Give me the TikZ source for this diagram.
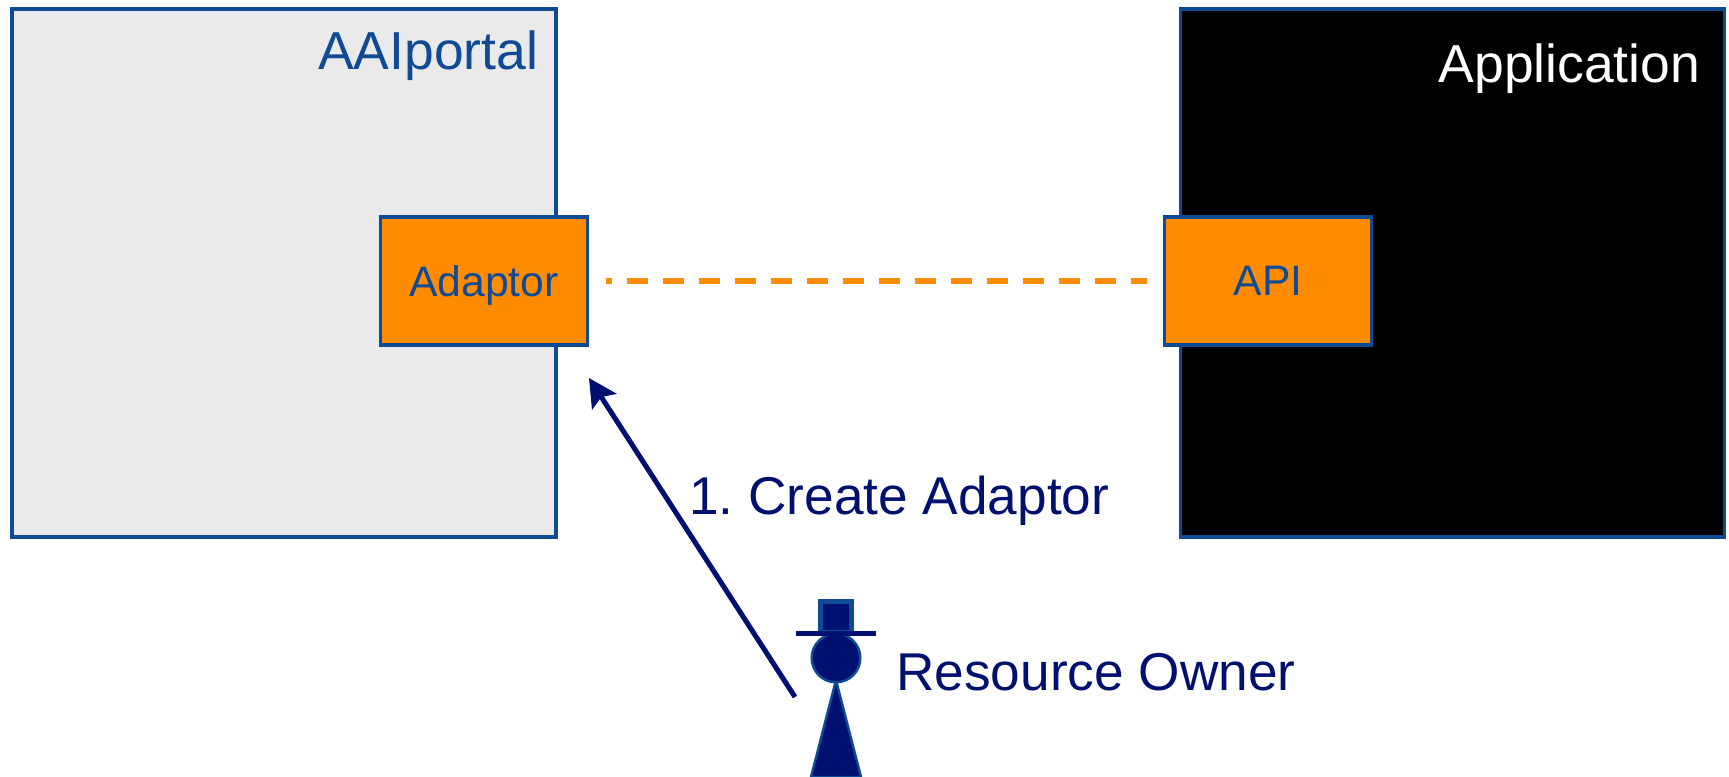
\documentclass[tikz,border=0pt]{standalone}
\usepackage{fontspec}
\setmainfont{Liberation Sans}
\usetikzlibrary{arrows.meta}
\definecolor{navyc}{HTML}{001070}
\definecolor{bluec}{HTML}{0F4A96}
\definecolor{orangec}{HTML}{FF8C00}
\definecolor{grayc}{HTML}{EAEAEA}
\tikzset{
  px/.style={x=0.75pt,y=-0.75pt},
  panel/.style={draw=bluec,line width=2.3pt,minimum width=408pt,minimum height=396pt,inner sep=0pt},
  portbox/.style={draw=bluec,line width=2.3pt,fill=orangec,minimum width=155.5pt,minimum height=96pt,inner sep=0pt,text=bluec,text depth=0pt,font=\fontsize{32}{32}\selectfont},
  titletext/.style={inner sep=0pt,font=\fontsize{40.1}{40}\selectfont},
  navytext/.style={inner sep=0pt,anchor=base west,text=navyc,font=\fontsize{39.9}{40}\selectfont},
  link/.style={draw=orangec,line width=3.8pt,dash pattern=on 15.75pt off 11.25pt,dash phase=11.25pt,shorten <=12.4pt,shorten >=12pt},
  flow/.style={draw=navyc,line width=3.8pt,-{Stealth[length=21pt,width=21.5pt,inset=4pt]}},
  figure/.style={fill=navyc,draw=bluec,line width=1.8pt}
}
\begin{document}
\begin{tikzpicture}[px]
\useasboundingbox (0,0) rectangle (1729,777);
\node[panel,fill=grayc] (portal) at (284,273) {};
\node[panel,fill=black] (app) at (1452.5,273) {};
\node[portbox] (adaptor) at (484,281) {Adaptor};
\node[portbox] (api) at (1268,281) {API};
\draw[link] (adaptor.east) -- (api.west);
\node[titletext,anchor=base east,text=bluec] (portaltitle) at (538.5,69.5) {AAIportal};
\node[titletext,anchor=base east,text=white] (apptitle) at (1700.5,83) {Application};
\coordinate (armfrom) at (795,697);
\coordinate (armto) at (589,378);
\draw[flow] (armfrom) -- (armto);
\node[navytext] (create) at (689,514) {1.\hspace{0.278em}Create Adaptor};
\node[navytext] (owner) at (896,690) {Resource Owner};
\draw[figure] (836,680) -- (861,777) -- (811,777) -- cycle;
\node[figure,circle,minimum size=36.5pt,inner sep=0pt] (head) at (836,658) {};
\node[figure,rectangle,minimum width=23.25pt,minimum height=23.25pt,inner sep=0pt,line width=3.8pt] (hat) at (836,617) {};
\coordinate (briml) at (796,633.5);
\coordinate (brimr) at (876,633.5);
\draw[navyc,line width=3.8pt] (briml) -- (brimr);
\end{tikzpicture}
\end{document}
